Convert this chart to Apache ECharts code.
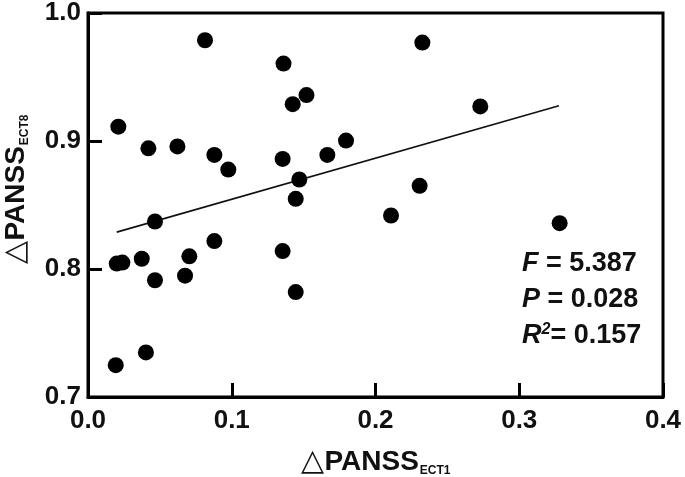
<!DOCTYPE html>
<html>
<head>
<meta charset="utf-8">
<script src="https://cdn.jsdelivr.net/npm/echarts@6/dist/echarts.min.js"></script>
<style>html,body{margin:0;padding:0;background:#fff}#c{width:685px;height:477px}</style>
</head>
<body>
<div id="c"></div>
<script>
// ΔPANSS ECT1 (x) and ΔPANSS ECT8 (y) per patient
const xVals = [0.0814,0.136,0.152,0.1424,0.0211,0.042,0.0622,0.0879,0.0976,0.1354,0.1665,0.1795,0.147,0.1445,0.0466,
  0.2326,0.2729,0.2307,0.2108,0.3281,
  0.0879,0.1354,0.1445,0.020,0.0239,0.0374,0.0705,0.0466,0.0675,0.0403,0.0193];
const yVals = [0.9787,0.9605,0.9359,0.9288,0.9112,0.8943,0.8958,0.8891,0.8777,0.886,0.8891,0.9003,0.8699,0.8548,0.8371,
  0.9769,0.927,0.865,0.8418,0.8358,
  0.8218,0.814,0.782,0.8042,0.805,0.808,0.8099,0.7912,0.7948,0.7348,0.7249];
// regression line endpoints
const fitX = [0.02, 0.3276];
const fitY = [0.8288, 0.9275];
const xTicks = [0.0, 0.1, 0.2, 0.3, 0.4];
const yTicks = [0.7, 0.8, 0.9, 1.0];
const stats = [['F', '= 5.387'], ['P', '= 0.028'], ['R', '= 0.157']];
const xTitle = ['PANSS', 'ECT1'];
const yTitle = ['PANSS', 'ECT8'];

const font = '"Liberation Sans", Arial, sans-serif';
const chart = echarts.init(document.getElementById('c'));
const pts = xVals.map((x, i) => [x, yVals[i]]);
const fit = fitX.map((x, i) => [x, fitY[i]]);

const titleRich = {
  d: {fontFamily: font, fontWeight: 'normal', fontSize: 30, fill: '#111'},
  a: {fontFamily: font, fontWeight: 'bold', fontSize: 28, fill: '#111'},
  b: {fontFamily: font, fontWeight: 'bold', fontSize: 12, fill: '#111', verticalAlign: 'bottom', padding: [14, 0, 0, 1]}
};

const statTexts = stats.map((s, i) => ({
  type: 'text',
  left: 522,
  top: 250 + i * 36,
  style: {
    text: i === 2 ? '{i|' + s[0] + '}{s|2}{n|' + s[1] + '}' : '{i|' + s[0] + '}{n| ' + s[1] + '}',
    rich: {
      i: {fontFamily: font, fontWeight: 'bold', fontStyle: 'italic', fontSize: 27, fill: '#111'},
      n: {fontFamily: font, fontWeight: 'bold', fontSize: 27, fill: '#111'},
      s: {fontFamily: font, fontWeight: 'bold', fontStyle: 'italic', fontSize: 16, fill: '#111', verticalAlign: 'top', padding: [0, 0, 12, 0]}
    }
  }
}));

const labelStyle = {fontFamily: font, fontWeight: 'bold', fontSize: 26, color: '#111'};

chart.setOption({
  animation: false,
  grid: {left: 88, top: 12, right: 22, bottom: 80, show: true, borderColor: '#000', borderWidth: 3},
  xAxis: {
    type: 'value', min: 0, max: 0.4, interval: 0.1,
    axisLine: {show: true, lineStyle: {color: '#000', width: 3}},
    axisTick: {show: true, inside: true, length: 14, lineStyle: {color: '#000', width: 3}},
    splitLine: {show: false},
    axisLabel: Object.assign({margin: 11, formatter: v => xTicks.find(t => Math.abs(t - v) < 1e-9).toFixed(1)}, labelStyle)
  },
  yAxis: {
    type: 'value', min: 0.7, max: 1.0, interval: 0.1,
    axisLine: {show: true, lineStyle: {color: '#000', width: 3}},
    axisTick: {show: true, inside: true, length: 14, lineStyle: {color: '#000', width: 3}},
    splitLine: {show: false},
    axisLabel: Object.assign({margin: 7, formatter: v => yTicks.find(t => Math.abs(t - v) < 1e-9).toFixed(1)}, labelStyle)
  },
  series: [
    {type: 'line', data: fit, symbol: 'none', lineStyle: {color: '#111', width: 1.6}, z: 1},
    {type: 'scatter', data: pts, symbolSize: 16, itemStyle: {color: '#000', opacity: 1}, z: 2}
  ],
  graphic: statTexts.concat([
    {type: 'text', x: 376, y: 462,
      style: {text: '{d|△}{a|' + xTitle[0] + '}{b|' + xTitle[1] + '}', rich: titleRich, align: 'center', verticalAlign: 'middle'}},
    {type: 'text', x: 16, y: 189, rotation: Math.PI / 2,
      style: {text: '{d|△}{a|' + yTitle[0] + '}{b|' + yTitle[1] + '}', rich: titleRich, align: 'center', verticalAlign: 'middle'}}
  ])
});
</script>
</body>
</html>
